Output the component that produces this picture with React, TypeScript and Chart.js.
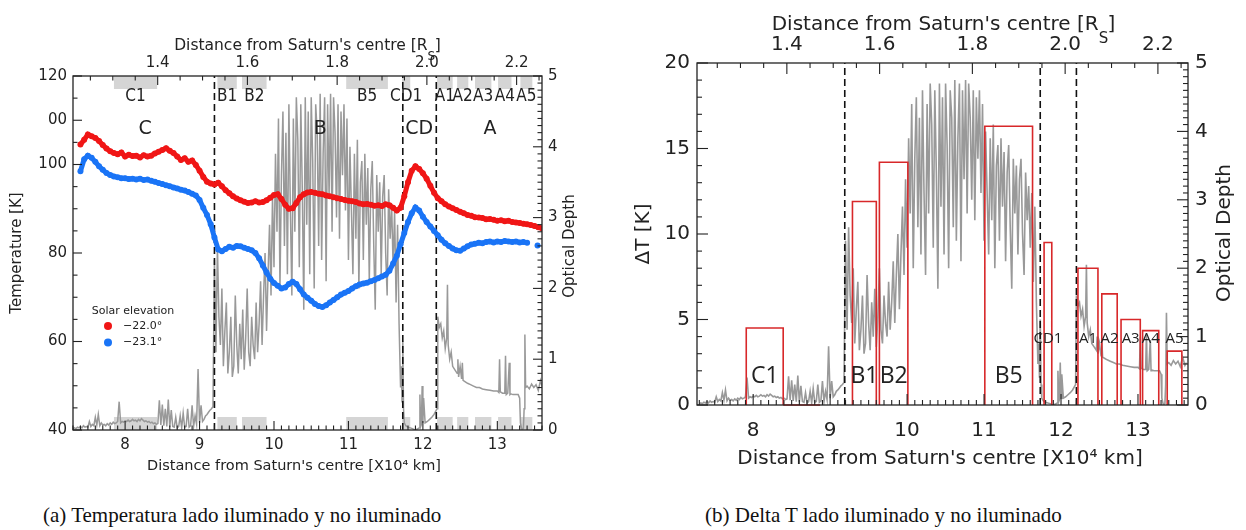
import React, { useEffect, useRef } from "react";
import { Chart, registerables } from "chart.js";

Chart.register(...registerables);

// ---------- constants / data ----------
const RS_KM = 6.0268; // Saturn radius in 10^4 km

// Panel (a): temperature scans, x = 7.40 + i*0.05 (10^4 km)
const TEMP_X_START = 7.4;
const TEMP_X_STEP = 0.05;
const tempRed = [
  104.5, 105.6, 106.8, 106.4, 106.0, 105.3, 104.4, 103.6, 103.0, 102.6,
  102.3, 102.7, 101.8, 102.2, 101.9, 102.0, 101.6, 102.1, 101.8, 102.0,
  102.5, 102.9, 103.3, 103.7, 103.1, 102.6, 101.8, 101.0, 101.4, 100.6,
  100.9, 99.9, 98.6, 97.2, 96.1, 95.7, 95.5, 95.9, 95.1, 94.2,
  93.5, 92.8, 92.3, 91.9, 91.6, 91.3, 91.4, 91.7, 91.4, 91.5,
  91.9, 92.5, 93.1, 93.3, 92.2, 90.9, 90.0, 90.1, 91.3, 92.6,
  93.3, 93.7, 93.8, 93.6, 93.4, 93.3, 93.0, 92.8, 92.6, 92.4,
  92.2, 92.0, 91.8, 91.7, 91.5, 91.2, 91.0, 91.1, 90.9, 90.7,
  90.8, 90.6, 91.0, 90.8, 90.2, 89.6, 90.2, 92.8, 96.0, 98.6,
  99.6, 99.0, 98.0, 96.8, 95.2, 93.6, 92.4, 91.7, 91.0, 90.5,
  90.1, 89.7, 89.3, 89.0, 88.6, 88.4, 88.1, 88.0, 87.9, 87.6,
  87.7, 87.5, 87.3, 87.4, 87.2, 87.3, 87.0, 86.9, 86.8, 86.6,
  86.5, 86.3, 86.1, 85.8, 85.6,
];
const tempBlue = [
  98.5, 101.2, 102.0, 101.5, 100.6, 99.6, 98.8, 98.1, 97.6, 97.3,
  97.1, 96.9, 96.9, 96.7, 96.8, 96.6, 96.8, 96.5, 96.6, 96.3,
  96.1, 95.8, 95.6, 95.3, 95.1, 94.8, 94.6, 94.3, 94.1, 93.8,
  93.4, 93.0, 92.0, 90.2, 88.6, 86.5, 83.5, 80.8, 80.4, 80.9,
  81.4, 81.2, 81.6, 81.5, 81.2, 80.9, 80.6, 80.0, 78.8, 77.2,
  75.6, 74.2, 73.2, 72.6, 72.0, 72.2, 73.0, 73.5, 73.0, 71.8,
  70.6, 69.9, 69.2, 68.5, 68.0, 67.8, 68.2, 68.8, 69.4, 70.0,
  70.6, 71.0, 71.4, 72.0, 72.5, 72.9, 73.1, 73.3, 73.6, 73.9,
  74.3, 74.7, 75.1, 76.0, 77.6, 79.4, 82.0, 84.5, 87.0, 89.0,
  90.3, 89.6, 88.2, 87.0, 86.0, 85.0, 84.0, 83.0, 82.2, 81.6,
  81.0, 80.6, 80.5, 81.0, 81.5, 81.9, 82.1, 82.3, 82.2, 82.5,
  82.6, 82.4, 82.6, 82.5, 82.7, 82.6, 82.5, 82.6, 82.4, 82.5,
  82.3,
];
const blueLoneX = [13.54];
const blueLoneY = [81.7];

// Optical depth profile (both panels)
const odCStart = 7.3;
const odCStep = 0.02;
const odC = [
  0.02, 0.03, 0.02, 0.04, 0.03, 0.05, 0.03, 0.06, 0.04, 0.05,
  0.04, 0.12, 0.05, 0.08, 0.06, 0.18, 0.07, 0.22, 0.06, 0.1,
  0.07, 0.08, 0.06, 0.09, 0.07, 0.1, 0.08, 0.11, 0.09, 0.1,
  0.12, 0.4, 0.1, 0.12, 0.11, 0.13, 0.12, 0.14, 0.12, 0.13,
  0.15, 0.13, 0.14, 0.12, 0.15, 0.13, 0.16, 0.14, 0.12, 0.13,
  0.11, 0.12, 0.1, 0.11, 0.09, 0.1, 0.08, 0.09, 0.42, 0.07,
  0.36, 0.06, 0.3, 0.05, 0.43, 0.04, 0.28, 0.05, 0.04, 0.18,
  0.03, 0.05, 0.2, 0.03, 0.24, 0.04, 0.05, 0.3, 0.04, 0.06,
  0.35, 0.05, 0.2, 0.08, 0.86, 0.1, 0.35, 0.12, 0.15, 0.2,
  0.22, 0.25, 0.28, 0.3, 0.33,
];
const odBStart = 9.2;
const odBStep = 0.02;
const odB = [
  2.4, 1.1, 2.6, 1.6, 1.2, 2.0, 0.9, 1.4, 1.8, 0.8,
  1.1, 1.6, 0.75, 0.9, 1.9, 1.2, 0.8, 1.5, 1.0, 1.7,
  0.85, 1.3, 2.0, 1.1, 0.9, 1.6, 1.2, 1.0, 1.8, 1.1,
  1.5, 2.1, 1.2, 1.9, 2.5, 1.4, 2.2, 2.9, 1.9, 3.3,
  2.3, 3.9, 2.8, 4.4, 2.0, 3.6, 4.5, 2.6, 4.2, 2.2,
  4.6, 3.1, 1.9, 4.4, 2.8, 4.7, 4.1, 2.3, 4.6, 3.4,
  1.7, 4.7, 2.9, 4.5, 2.2, 4.7, 3.8, 2.0, 4.6, 4.2,
  2.6, 4.75, 2.4, 3.9, 4.7, 2.1, 4.6, 3.3, 4.75, 2.8,
  4.7, 4.2, 3.0, 4.6, 2.7, 4.5, 3.6, 4.6, 3.1, 4.4,
  2.4, 4.0, 3.1, 2.2, 3.9, 2.7, 4.1, 2.0, 3.5, 3.8,
  2.4, 3.9, 2.9, 3.7, 2.1, 3.4, 3.8, 2.6, 1.7, 3.6,
  2.8, 3.5, 2.2, 3.3, 3.6, 2.5, 1.9, 3.4, 2.7, 3.2,
  2.3, 3.1, 1.8, 2.9, 1.5, 0.6,
];
const odCDX = [11.71, 11.72, 11.73, 11.74, 11.75, 11.77, 11.8, 11.83, 11.86, 11.89, 11.92, 11.95, 11.96, 11.97, 11.98, 11.99, 12.0, 12.01, 12.03, 12.06, 12.09, 12.12, 12.15, 12.18];
const odCDY = [0.9, 0.4, 1.25, 0.3, 0.1, 0.06, 0.04, 0.03, 0.02, 0.0, 0.01, 0.03, 0.5, 0.05, 0.08, 0.62, 0.1, 0.45, 0.1, 0.12, 0.15, 0.18, 0.22, 0.28];
const odAX = [
  12.19, 12.2, 12.22, 12.24, 12.26, 12.28, 12.3, 12.32, 12.33, 12.34,
  12.36, 12.38, 12.4, 12.43, 12.46, 12.47, 12.48, 12.5, 12.52, 12.53,
  12.54, 12.57, 12.6, 12.64, 12.68, 12.72, 12.76, 12.8, 12.85, 12.9,
  12.95, 13.0, 13.02, 13.03, 13.04, 13.07, 13.1, 13.11, 13.12, 13.14,
  13.16, 13.17, 13.18, 13.21, 13.25, 13.28, 13.3, 13.31, 13.33, 13.35,
  13.36, 13.37, 13.38, 13.4, 13.43, 13.46, 13.49, 13.52, 13.55, 13.58,
  13.61, 13.63,
];
const odAY = [
  0.3, 1.6, 1.45, 1.5, 1.3, 1.4, 1.15, 1.3, 2.05, 1.2,
  1.0, 1.1, 0.9, 0.85, 0.8, 1.0, 0.75, 0.9, 0.72, 0.95,
  0.7, 0.68, 0.66, 0.64, 0.62, 0.6, 0.6, 0.58, 0.57, 0.56,
  0.55, 0.55, 0.53, 1.0, 0.54, 0.52, 0.52, 1.05, 0.5, 0.52,
  0.95, 0.5, 0.51, 0.5, 0.5, 0.5, 0.45, 0.1, 0.0, 0.02,
  0.3, 1.35, 0.6, 0.62, 0.58, 0.65, 0.6, 0.64, 0.56, 0.7,
  0.58, 0.62,
];

// Ring boundaries (dashed lines)
const gapsA = [9.2, 11.73, 12.18];
const gapsB = [9.19, 11.73, 12.2];

// Panel (a) analysed regions (grey bars) and ring names
const regionNames = ["C1", "B1", "B2", "B5", "CD1", "A1", "A2", "A3", "A4", "A5"];
const regionStart = [7.85, 9.24, 9.57, 10.97, 11.72, 12.19, 12.46, 12.7, 13.01, 13.31];
const regionEnd = [8.43, 9.5, 9.9, 11.53, 11.83, 12.4, 12.61, 12.92, 13.19, 13.47];
const ringNames = ["C", "B", "CD", "A"];
const ringLabelX = [8.27, 10.62, 11.95, 12.9];

// Panel (b) Delta T per region
const boxNames = ["C1", "", "B1", "B2", "B5", "CD1", "A1", "A2", "A3", "A4", "A5"];
const boxStart = [7.91, 8.39, 9.29, 9.64, 11.01, 11.78, 12.22, 12.53, 12.78, 13.06, 13.38];
const boxEnd = [8.39, 8.87, 9.6, 10.01, 11.63, 11.88, 12.48, 12.73, 13.03, 13.27, 13.57];
const boxDeltaT = [4.5, 0, 11.9, 14.2, 16.3, 9.5, 8.0, 6.5, 5.0, 4.35, 3.15];

// Tick labels
const kmTickLabels = [8, 9, 10, 11, 12, 13];
const rsTickLabels = [1.4, 1.6, 1.8, 2.0, 2.2];
const tempTickLabels = [40, 60, 80, 100, 110, 120];
const odTickLabels = [0, 1, 2, 3, 4, 5];
const dtTickLabels = [0, 5, 10, 15, 20];

const legendTitle = "Solar elevation";
const legendLabels = ["\u221222.0\u00b0", "\u221223.1\u00b0"];
const captionA = "(a) Temperatura lado iluminado y no iluminado";
const captionB = "(b) Delta T lado iluminado y no iluminado";

// ---------- styling ----------
const FONT = "'DejaVu Sans', 'Liberation Sans', sans-serif";
const NARROW = "'Liberation Sans Narrow', 'DejaVu Sans Condensed', 'DejaVu Sans', sans-serif";
const LABEL_FONT = "'Open Sans', 'Noto Sans', sans-serif";
const INK = "#222";
const RED = "#f01616";
const BLUE = "#1a74f6";
const GREY = "#999999";
const BOX_RED = "#d8282a";

// ---------- helpers ----------
const rangeList = (a: number, b: number, step: number) => {
  const out: number[] = [];
  const n = Math.round((b - a) / step);
  for (let i = 0; i <= n; i++) out.push(+(a + i * step).toFixed(4));
  return out;
};
const pts = (xs: number[], ys: number[]) => xs.map((x, i) => ({ x, y: ys[i] }));
const stepPts = (start: number, step: number, ys: number[]) =>
  ys.map((y, i) => ({ x: +(start + i * step).toFixed(3), y }));
const odSeries = () => [
  ...stepPts(odCStart, odCStep, odC),
  ...stepPts(odBStart, odBStep, odB),
  ...pts(odCDX, odCDY),
  ...pts(odAX, odAY),
];
const vlines = (xs: number[]) => xs.flatMap((x) => [{ x, y: 0 }, { x, y: 5 }, { x, y: null as any }]);

type TickSpec = [number, number][];
const tickSpec = (minor: number[], major: number[], minLen: number, majLen: number): TickSpec => {
  const isMajor = (v: number) => major.some((m) => Math.abs(m - v) < 1e-6);
  return [
    ...minor.filter((v) => !isMajor(v)).map((v) => [v, minLen] as [number, number]),
    ...major.map((v) => [v, majLen] as [number, number]),
  ];
};

function drawFrameTicks(chart: any, spec: { bottom: TickSpec; top: TickSpec; left: TickSpec; right: TickSpec }) {
  const { ctx, chartArea: a, scales } = chart;
  ctx.save();
  ctx.strokeStyle = INK;
  ctx.lineWidth = 1.3;
  ctx.strokeRect(a.left, a.top, a.right - a.left, a.bottom - a.top);
  ctx.lineWidth = 1.1;
  const seg = (x0: number, y0: number, x1: number, y1: number) => {
    ctx.beginPath();
    ctx.moveTo(x0, y0);
    ctx.lineTo(x1, y1);
    ctx.stroke();
  };
  for (const [v, len] of spec.bottom) {
    const p = scales.x.getPixelForValue(v);
    seg(p, a.bottom, p, a.bottom - len);
  }
  for (const [v, len] of spec.top) {
    const p = scales.x.getPixelForValue(v);
    if (p < a.left - 0.5 || p > a.right + 0.5) continue;
    seg(p, a.top, p, a.top + len);
  }
  for (const [v, len] of spec.left) {
    const p = scales.y.getPixelForValue(v);
    seg(a.left, p, a.left + len, p);
  }
  for (const [v, len] of spec.right) {
    const p = scales.y2.getPixelForValue(v);
    seg(a.right, p, a.right - len, p);
  }
  ctx.restore();
}

function text(ctx: CanvasRenderingContext2D, s: string, x: number, y: number, font: string, align: CanvasTextAlign = "center", rot = 0, color = INK) {
  ctx.save();
  ctx.translate(x, y);
  if (rot) ctx.rotate(rot);
  ctx.font = font;
  ctx.fillStyle = color;
  ctx.textAlign = align;
  ctx.textBaseline = "middle";
  ctx.fillText(s, 0, 0);
  ctx.restore();
}

function rsTitle(ctx: CanvasRenderingContext2D, cx: number, cy: number, size: number) {
  const main = "Distance from Saturn's centre [R";
  const big = `${size}px ${FONT}`;
  const small = `${Math.round(size * 0.75)}px ${FONT}`;
  ctx.save();
  ctx.font = big;
  const w1 = ctx.measureText(main).width;
  const w3 = ctx.measureText("]").width;
  ctx.font = small;
  const w2 = ctx.measureText("s").width;
  let x = cx - (w1 + w2 + w3) / 2;
  ctx.fillStyle = INK;
  ctx.textBaseline = "middle";
  ctx.textAlign = "left";
  ctx.font = big;
  ctx.fillText(main, x, cy);
  x += w1;
  ctx.font = small;
  ctx.fillText("S", x, cy + size * 0.72);
  x += w2 + 1;
  ctx.font = big;
  ctx.fillText("]", x, cy);
  ctx.restore();
}

const axisCommon = (size: number, padding: number) => ({
  grid: { display: false, drawTicks: false },
  border: { display: false },
  ticks: {
    autoSkip: false,
    maxRotation: 0,
    minRotation: 0,
    padding,
    color: INK,
    font: { family: FONT, size },
  },
});

const rsMinorKm = (min: number, max: number) =>
  rangeList(1.2, 2.3, 0.05).map((r) => r * RS_KM).filter((v) => v >= min - 1e-6 && v <= max + 1e-6);

// ---------- Panel (a) ----------
const A_MIN = 7.3;
const A_MAX = 13.6;

function TemperatureChart() {
  const ref = useRef<HTMLCanvasElement>(null);
  useEffect(() => {
    if (!ref.current) return;
    const spec = {
      bottom: tickSpec(rangeList(7.3, 13.6, 0.1), kmTickLabels, 4.5, 9),
      top: tickSpec(rsMinorKm(A_MIN, A_MAX), rsTickLabels.map((r) => r * RS_KM), 4.5, 9),
      left: tickSpec(rangeList(40, 120, 5), tempTickLabels, 4.5, 9),
      right: tickSpec(rangeList(0, 5, 0.1), odTickLabels, 4.5, 9),
    };
    const decor = {
      id: "decorA",
      beforeDatasetsDraw(chart: any) {
        const { ctx, chartArea: a, scales } = chart;
        ctx.save();
        ctx.fillStyle = "#d5d5d5";
        regionStart.forEach((s, i) => {
          const x0 = scales.x.getPixelForValue(s);
          const x1 = scales.x.getPixelForValue(regionEnd[i]);
          ctx.fillRect(x0, a.top, x1 - x0, 13);
          ctx.fillRect(x0, a.bottom - 13, x1 - x0, 13);
        });
        ctx.restore();
      },
      afterDatasetsDraw(chart: any) {
        const { ctx, chartArea: a, scales } = chart;
        drawFrameTicks(chart, spec);
        regionNames.forEach((n, i) => {
          const cx = scales.x.getPixelForValue((regionStart[i] + regionEnd[i]) / 2);
          text(ctx, n, cx, a.top + 21, `17px ${NARROW}`);
        });
        ringNames.forEach((n, i) => {
          text(ctx, n, scales.x.getPixelForValue(ringLabelX[i]), a.top + 53, `19px ${FONT}`);
        });
        // legend
        text(ctx, legendTitle, 133, 311, `11px ${FONT}`);
        [RED, BLUE].forEach((c, i) => {
          const y = 326 + i * 16.5;
          ctx.save();
          ctx.fillStyle = c;
          ctx.beginPath();
          ctx.arc(108, y, 4, 0, Math.PI * 2);
          ctx.fill();
          ctx.restore();
          text(ctx, legendLabels[i], 123, y, `11px ${FONT}`, "left");
        });
        // titles
        rsTitle(ctx, 307, 46, 15.5);
        text(ctx, "Distance from Saturn's centre [X10\u2074 km]", 294, 466, `14.5px ${FONT}`);
        text(ctx, "Temperature [K]", 17, 253, `15px ${FONT}`, "center", -Math.PI / 2);
        text(ctx, "Optical Depth", 570, 246, `15px ${FONT}`, "center", -Math.PI / 2);
      },
    };
    const chart = new Chart(ref.current, {
      type: "line",
      data: {
        datasets: [
          {
            data: stepPts(TEMP_X_START, TEMP_X_STEP, tempRed),
            yAxisID: "y",
            showLine: true,
            borderWidth: 5,
            borderColor: RED,
            pointRadius: 3,
            pointBorderWidth: 0,
            pointBackgroundColor: RED,
            spanGaps: false,
            order: 1,
          },
          {
            data: [...stepPts(TEMP_X_START, TEMP_X_STEP, tempBlue), { x: 13.47, y: null }, ...pts(blueLoneX, blueLoneY)],
            yAxisID: "y",
            showLine: true,
            borderWidth: 5,
            borderColor: BLUE,
            pointRadius: 3,
            pointBorderWidth: 0,
            pointBackgroundColor: BLUE,
            spanGaps: false,
            order: 2,
          },
          {
            data: vlines(gapsA),
            yAxisID: "y2",
            borderColor: "#111",
            borderWidth: 1.6,
            borderDash: [7, 4],
            pointRadius: 0,
            spanGaps: false,
            order: 3,
          },
          {
            data: odSeries(),
            yAxisID: "y2",
            borderColor: GREY,
            borderWidth: 1.5,
            pointRadius: 0,
            tension: 0,
            order: 4,
          },
        ] as any,
      },
      options: {
        responsive: false,
        animation: false,
        events: [],
        layout: { padding: 0 },
        plugins: { legend: { display: false }, tooltip: { enabled: false } },
        scales: {
          x: {
            ...axisCommon(15, 6),
            type: "linear",
            position: "bottom",
            min: A_MIN,
            max: A_MAX,
            afterBuildTicks: (s: any) => { s.ticks = kmTickLabels.map((v) => ({ value: v })); },
            afterFit: (s: any) => { s.height = 50; },
          },
          xTop: {
            ...axisCommon(15, 4),
            type: "linear",
            axis: "x",
            position: "top",
            min: A_MIN,
            max: A_MAX,
            ticks: { ...axisCommon(15, 4).ticks, callback: (v: any) => (v / RS_KM).toFixed(1) },
            afterBuildTicks: (s: any) => { s.ticks = rsTickLabels.map((r) => ({ value: r * RS_KM })); },
            afterFit: (s: any) => { s.height = 76; },
          },
          y: {
            ...axisCommon(15, 6),
            type: "linear",
            position: "left",
            min: 40,
            max: 120,
            ticks: { ...axisCommon(15, 6).ticks, callback: (v: any) => (v === 110 ? "00" : String(v)) },
            afterBuildTicks: (s: any) => { s.ticks = tempTickLabels.map((v) => ({ value: v })); },
            afterFit: (s: any) => { s.width = 73; },
          },
          y2: {
            ...axisCommon(15, 6),
            type: "linear",
            position: "right",
            min: 0,
            max: 5,
            afterBuildTicks: (s: any) => { s.ticks = odTickLabels.map((v) => ({ value: v })); },
            afterFit: (s: any) => { s.width = 58; },
          },
        },
      } as any,
      plugins: [decor as any],
    });
    return () => chart.destroy();
  }, []);
  return <canvas ref={ref} width={600} height={480} />;
}

// ---------- Panel (b) ----------
const B_MIN = 7.27;
const B_MAX = 13.65;

function DeltaTChart() {
  const ref = useRef<HTMLCanvasElement>(null);
  useEffect(() => {
    if (!ref.current) return;
    const spec = {
      bottom: tickSpec(rangeList(7.3, 13.6, 0.1), kmTickLabels, 5, 11),
      top: tickSpec(rsMinorKm(B_MIN, B_MAX), rsTickLabels.map((r) => r * RS_KM), 5, 11),
      left: tickSpec(rangeList(0, 20, 1), dtTickLabels, 5, 11),
      right: tickSpec(rangeList(0, 5, 0.1), odTickLabels, 5, 11),
    };
    const bigLabels = new Set(["C1", "B1", "B2", "B5"]);
    const decor = {
      id: "decorB",
      afterDatasetsDraw(chart: any) {
        const { ctx, chartArea: a, scales } = chart;
        drawFrameTicks(chart, spec);
        boxNames.forEach((n, i) => {
          if (!n) return;
          const cx = scales.x.getPixelForValue((boxStart[i] + boxEnd[i]) / 2);
          if (bigLabels.has(n)) text(ctx, n, cx, a.bottom - 29, `23px ${LABEL_FONT}`);
          else text(ctx, n, cx, a.bottom - 66, `15px ${LABEL_FONT}`);
        });
        rsTitle(ctx, 323, 25, 20);
        text(ctx, "Distance from Saturn's centre [X10\u2074 km]", 320, 459, `20px ${FONT}`);
        text(ctx, "\u0394T [K]", 24, 234, `20px ${FONT}`, "center", -Math.PI / 2);
        text(ctx, "Optical Depth", 605, 233, `20px ${FONT}`, "center", -Math.PI / 2);
      },
    };
    const boxData = boxStart.flatMap((s, i) => [
      { x: s, y: 0 },
      { x: s, y: boxDeltaT[i] },
      { x: boxEnd[i], y: boxDeltaT[i] },
      { x: boxEnd[i], y: 0 },
      { x: boxEnd[i], y: null as any },
    ]);
    const chart = new Chart(ref.current, {
      type: "line",
      data: {
        datasets: [
          {
            data: boxData,
            yAxisID: "y",
            borderColor: BOX_RED,
            borderWidth: 1.6,
            pointRadius: 0,
            spanGaps: false,
            clip: false,
            order: 1,
          },
          {
            data: vlines(gapsB),
            yAxisID: "y2",
            borderColor: "#111",
            borderWidth: 1.6,
            borderDash: [7, 4],
            pointRadius: 0,
            spanGaps: false,
            order: 2,
          },
          {
            data: odSeries(),
            yAxisID: "y2",
            borderColor: GREY,
            borderWidth: 1.6,
            pointRadius: 0,
            tension: 0,
            order: 3,
          },
        ] as any,
      },
      options: {
        responsive: false,
        animation: false,
        events: [],
        layout: { padding: 0 },
        plugins: { legend: { display: false }, tooltip: { enabled: false } },
        scales: {
          x: {
            ...axisCommon(20, 14),
            type: "linear",
            position: "bottom",
            min: B_MIN,
            max: B_MAX,
            afterBuildTicks: (s: any) => { s.ticks = kmTickLabels.map((v) => ({ value: v })); },
            afterFit: (s: any) => { s.height = 75; },
          },
          xTop: {
            ...axisCommon(20, 6),
            type: "linear",
            axis: "x",
            position: "top",
            min: B_MIN,
            max: B_MAX,
            ticks: { ...axisCommon(20, 6).ticks, callback: (v: any) => (v / RS_KM).toFixed(1) },
            afterBuildTicks: (s: any) => { s.ticks = rsTickLabels.map((r) => ({ value: r * RS_KM })); },
            afterFit: (s: any) => { s.height = 63; },
          },
          y: {
            ...axisCommon(20, 7),
            type: "linear",
            position: "left",
            min: 0,
            max: 20,
            afterBuildTicks: (s: any) => { s.ticks = dtTickLabels.map((v) => ({ value: v })); },
            afterFit: (s: any) => { s.width = 77; },
          },
          y2: {
            ...axisCommon(20, 7),
            type: "linear",
            position: "right",
            min: 0,
            max: 5,
            afterBuildTicks: (s: any) => { s.ticks = odTickLabels.map((v) => ({ value: v })); },
            afterFit: (s: any) => { s.width = 58; },
          },
        },
      } as any,
      plugins: [decor as any],
    });
    return () => chart.destroy();
  }, []);
  return <canvas ref={ref} width={626} height={480} />;
}

export default function App() {
  const caption: React.CSSProperties = {
    position: "absolute",
    top: 503,
    fontFamily: "'Liberation Serif', 'Times New Roman', serif",
    fontSize: 21,
    lineHeight: "24px",
    color: "#111",
    whiteSpace: "nowrap",
  };
  return (
    <div style={{ position: "absolute", left: 0, top: 0, width: 1246, height: 530, background: "#fff", overflow: "hidden" }}>
      <div style={{ position: "absolute", left: 0, top: 0 }}>
        <TemperatureChart />
      </div>
      <div style={{ position: "absolute", left: 620, top: 0 }}>
        <DeltaTChart />
      </div>
      <div style={{ ...caption, left: 43 }}>{captionA}</div>
      <div style={{ ...caption, left: 705 }}>{captionB}</div>
    </div>
  );
}
